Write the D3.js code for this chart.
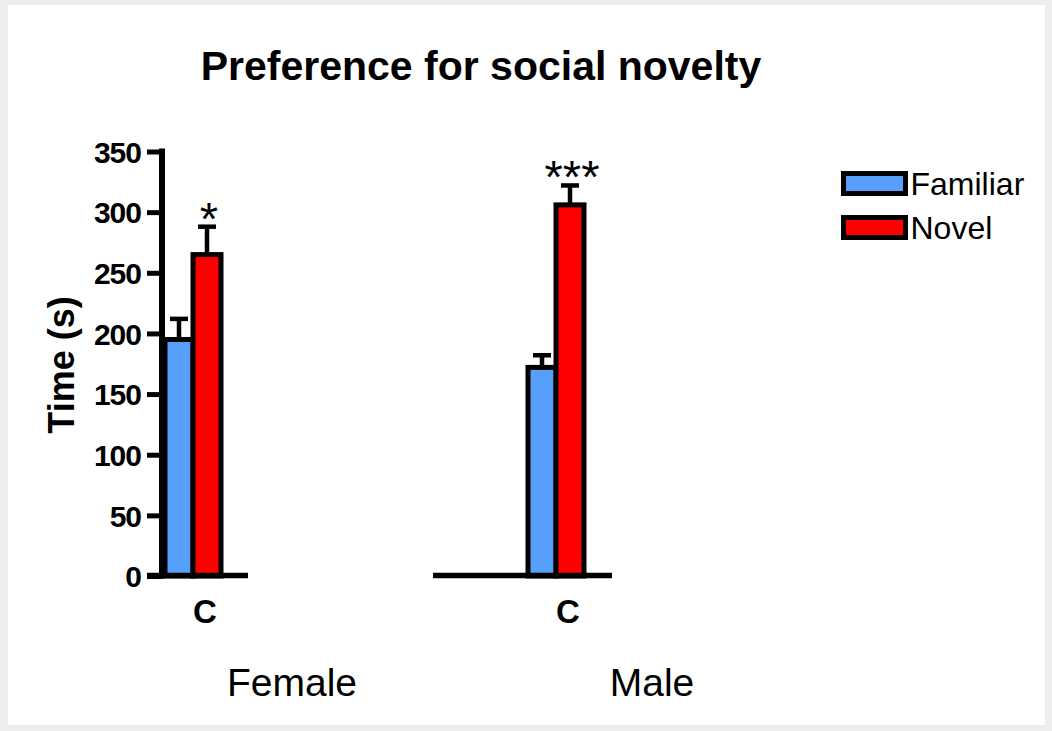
<!DOCTYPE html>
<html>
<head>
<meta charset="utf-8">
<script src="https://cdn.jsdelivr.net/npm/d3@7"></script>
<style>
  body { margin: 0; background: #eeeeee; }
  svg { display: block; font-family: "Liberation Sans", Arial, sans-serif; }
</style>
</head>
<body>
<div id="chart"></div>
<script>
// data
var series = ["Familiar", "Novel"];
var colors = ["#56a0fb", "#ff0000"];
var panels = ["Female", "Male"];
var groups = ["C"];
var femaleMeans = [195, 265];
var femaleErrors = [17, 23];
var maleMeans = [172, 306];
var maleErrors = [10, 16];
var stars = ["*", "***"];
var yTicks = [0, 50, 100, 150, 200, 250, 300, 350];

var width = 1052, height = 731;

var svg = d3.select("#chart")
  .append("svg")
    .attr("width", width)
    .attr("height", height);

// white page on the gray background
svg.append("rect")
  .attr("x", 8).attr("y", 5)
  .attr("width", 1037).attr("height", 720)
  .attr("fill", "#fff");

// Y scale shared by both panels
var y = d3.scaleLinear()
  .domain([0, 350])
  .range([576, 151.5]);

// Y axis
var yAxis = svg.append("g")
  .attr("transform", "translate(162,0)")
  .call(d3.axisLeft(y).tickValues(yTicks).tickSize(15).tickSizeOuter(0).tickPadding(6));
yAxis.select(".domain")
  .attr("stroke", "#000")
  .attr("stroke-width", 6)
  .attr("d", "M0,148.5V578.5");
yAxis.selectAll(".tick line")
  .attr("stroke", "#000")
  .attr("stroke-width", 5);
yAxis.selectAll(".tick text")
  .attr("fill", "#000")
  .style("font-size", "30px")
  .style("font-weight", "bold")
  .style("letter-spacing", "-1px")
  .attr("dy", "0.36em");

// y label
svg.append("text")
  .attr("transform", "translate(74,365) rotate(-90)")
  .attr("text-anchor", "middle")
  .style("font-size", "36px")
  .style("font-weight", "bold")
  .text("Time (s)");

// title
svg.append("text")
  .attr("x", 481)
  .attr("y", 80)
  .attr("text-anchor", "middle")
  .style("font-size", "41px")
  .style("font-weight", "bold")
  .text("Preference for social novelty");

// panel layouts
var panelData = [
  { name: panels[0], means: femaleMeans, errors: femaleErrors, star: stars[0],
    band: [165, 221], axis: [147, 248], labelX: 292 },
  { name: panels[1], means: maleMeans, errors: maleErrors, star: stars[1],
    band: [528, 584], axis: [433, 612], labelX: 652 }
];

panelData.forEach(function(p) {
  var x0 = d3.scaleBand().domain(groups).range(p.band).padding(0);
  var x1 = d3.scaleBand().domain(series).range([0, x0.bandwidth()]).padding(0);

  var g = svg.append("g");

  var rows = series.map(function(s, i) {
    return { group: groups[0], series: s, mean: p.means[i], err: p.errors[i], color: colors[i] };
  });

  // error bars (up only)
  g.selectAll(".stem")
    .data(rows)
    .enter().append("line")
      .attr("x1", function(d) { return x0(d.group) + x1(d.series) + x1.bandwidth() / 2; })
      .attr("x2", function(d) { return x0(d.group) + x1(d.series) + x1.bandwidth() / 2; })
      .attr("y1", function(d) { return y(d.mean); })
      .attr("y2", function(d) { return y(d.mean + d.err); })
      .attr("stroke", "#000")
      .attr("stroke-width", 4.5);
  g.selectAll(".cap")
    .data(rows)
    .enter().append("line")
      .attr("x1", function(d) { return x0(d.group) + x1(d.series) + x1.bandwidth() / 2 - 9; })
      .attr("x2", function(d) { return x0(d.group) + x1(d.series) + x1.bandwidth() / 2 + 9; })
      .attr("y1", function(d) { return y(d.mean + d.err); })
      .attr("y2", function(d) { return y(d.mean + d.err); })
      .attr("stroke", "#000")
      .attr("stroke-width", 4.5);

  // bars
  g.selectAll(".bar")
    .data(rows)
    .enter().append("rect")
      .attr("x", function(d) { return x0(d.group) + x1(d.series); })
      .attr("y", function(d) { return y(d.mean); })
      .attr("width", x1.bandwidth())
      .attr("height", function(d) { return y(0) - y(d.mean); })
      .attr("fill", function(d) { return d.color; })
      .attr("stroke", "#000")
      .attr("stroke-width", 5);

  // x axis line
  g.append("line")
    .attr("x1", p.axis[0]).attr("x2", p.axis[1])
    .attr("y1", y(0) - 0.5).attr("y2", y(0) - 0.5)
    .attr("stroke", "#000")
    .attr("stroke-width", 5.5);

  // significance stars above the novel bar
  var nov = rows[1];
  g.append("text")
    .attr("x", x0(nov.group) + x1(nov.series) + x1.bandwidth() / 2 + 2)
    .attr("y", y(nov.mean + nov.err) + 8)
    .attr("text-anchor", "middle")
    .style("font-size", "47px")
    .text(p.star);

  // group label
  g.append("text")
    .attr("x", x0(groups[0]) + x0.bandwidth() / 2 + 12)
    .attr("y", 623)
    .attr("text-anchor", "middle")
    .style("font-size", "33px")
    .style("font-weight", "bold")
    .text(groups[0]);

  // panel label
  g.append("text")
    .attr("x", p.labelX)
    .attr("y", 696)
    .attr("text-anchor", "middle")
    .style("font-size", "39px")
    .text(p.name);
});

// legend
var legend = svg.append("g")
  .attr("transform", "translate(843.5,173.5)");
series.forEach(function(s, i) {
  legend.append("rect")
    .attr("x", 0)
    .attr("y", i * 44)
    .attr("width", 62)
    .attr("height", 20)
    .attr("fill", colors[i])
    .attr("stroke", "#000")
    .attr("stroke-width", 5);
  legend.append("text")
    .attr("x", 67)
    .attr("y", i * 44 + 21)
    .style("font-size", "32px")
    .text(s);
});
</script>
</body>
</html>
